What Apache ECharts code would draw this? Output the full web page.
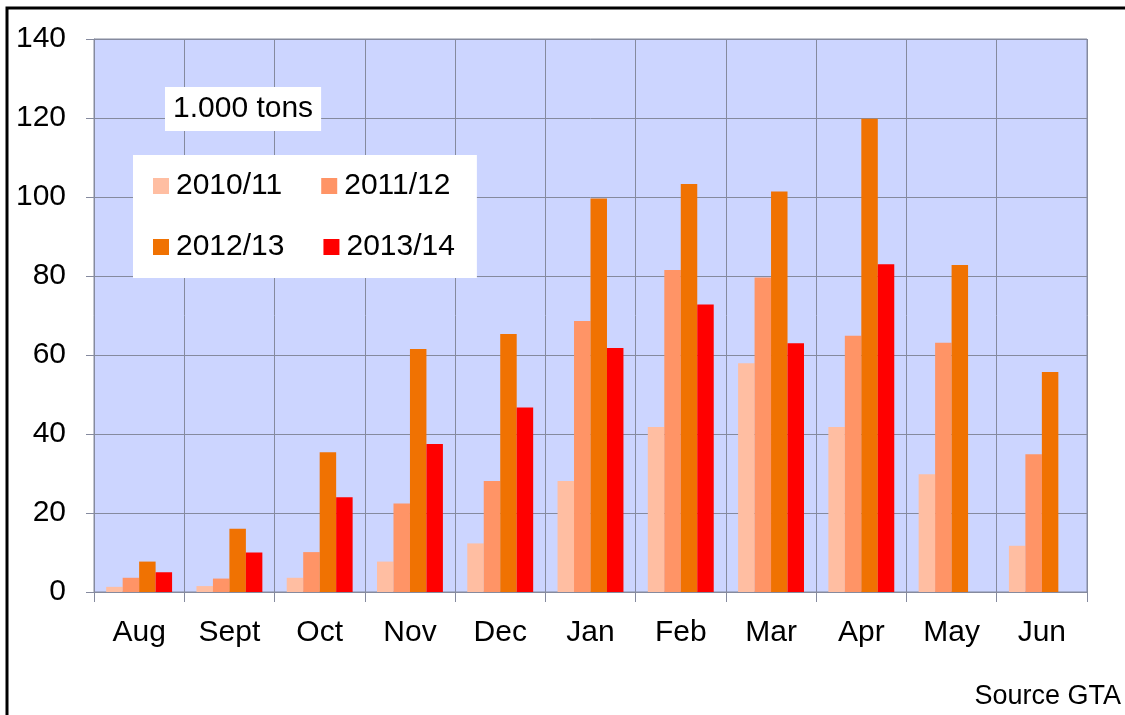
<!DOCTYPE html>
<html>
<head>
<meta charset="utf-8">
<script src="https://cdn.jsdelivr.net/npm/echarts@6/dist/echarts.min.js"></script>
<style>
  html, body { margin: 0; padding: 0; background: #fff; }
  #chart { width: 1125px; height: 715px; }
</style>
</head>
<body>
<div id="chart"></div>
<script>
// months of the marketing year
const months = ['Aug', 'Sept', 'Oct', 'Nov', 'Dec', 'Jan', 'Feb', 'Mar', 'Apr', 'May', 'Jun']
const seasons = ['2010/11', '2011/12', '2012/13', '2013/14']
// 1.000 tons
const s2010 = [1.3, 1.5, 3.6, 7.7, 12.3, 28.1, 41.8, 57.9, 41.8, 29.8, 11.7]
const s2011 = [3.6, 3.4, 10.1, 22.4, 28.1, 68.6, 81.5, 79.6, 64.9, 63.1, 34.9]
const s2012 = [7.7, 16.0, 35.4, 61.5, 65.3, 99.6, 103.3, 101.4, 119.8, 82.8, 55.7]
const s2013 = [5.0, 10.0, 24.0, 37.5, 46.7, 61.8, 72.8, 63.0, 83.0, null, null]
const yTicks = [0, 20, 40, 60, 80, 100, 120, 140]

const colors = ['#FFBEA2', '#FF9466', '#F07202', '#FF0000']
const font = 'Liberation Sans, Arial, sans-serif'
const gridColor = '#858A9E'

const chart = echarts.init(document.getElementById('chart'))

chart.setOption({
  animation: false,
  color: colors,
  title: {
    text: '1.000 tons',
    left: 165,
    top: 87,
    padding: [7, 8, 7, 8],
    backgroundColor: '#fff',
    textStyle: { fontFamily: font, fontSize: 30, fontWeight: 'normal', color: '#000', lineHeight: 30 }
  },
  legend: {
    data: seasons,
    left: 133,
    top: 155,
    width: 330,
    padding: [16, 14, 16, 20],
    backgroundColor: '#fff',
    icon: 'rect',
    itemWidth: 16,
    itemHeight: 16,
    itemGap: 31,
    textStyle: { fontFamily: font, fontSize: 30, color: '#000', lineHeight: 24, padding: [0, 8, 0, 2] }
  },
  grid: {
    left: 94,
    right: 38,
    top: 39,
    bottom: 123,
    show: true,
    backgroundColor: '#CCD5FF',
    borderColor: gridColor,
    borderWidth: 1
  },
  xAxis: {
    type: 'category',
    data: months,
    axisLine: { show: true, lineStyle: { color: gridColor } },
    axisTick: { show: true, length: 10, lineStyle: { color: gridColor } },
    axisLabel: { fontFamily: font, fontSize: 30, color: '#000', margin: 26 },
    splitLine: { show: true, lineStyle: { color: gridColor, width: 1 } }
  },
  yAxis: {
    type: 'value',
    min: yTicks[0],
    max: yTicks[yTicks.length - 1],
    interval: 20,
    axisLine: { show: true, lineStyle: { color: gridColor } },
    axisTick: { show: true, length: 8, lineStyle: { color: gridColor } },
    axisLabel: { fontFamily: font, fontSize: 30, color: '#000', margin: 28 },
    splitLine: { show: true, lineStyle: { color: gridColor, width: 1 } }
  },
  graphic: [
    {
      type: 'rect',
      silent: true,
      shape: { x: 7, y: 8, width: 1140, height: 730 },
      style: { fill: 'none', stroke: '#000', lineWidth: 3 }
    },
    {
      type: 'text',
      right: 4,
      top: 683,
      style: { text: 'Source GTA', fontFamily: font, fontSize: 27, fill: '#000' }
    }
  ],
  series: [
    { name: seasons[0], type: 'bar', data: s2010, barGap: 0, barCategoryGap: '27%' },
    { name: seasons[1], type: 'bar', data: s2011, barGap: 0, barCategoryGap: '27%' },
    { name: seasons[2], type: 'bar', data: s2012, barGap: 0, barCategoryGap: '27%' },
    { name: seasons[3], type: 'bar', data: s2013, barGap: 0, barCategoryGap: '27%' }
  ]
})
</script>
</body>
</html>
